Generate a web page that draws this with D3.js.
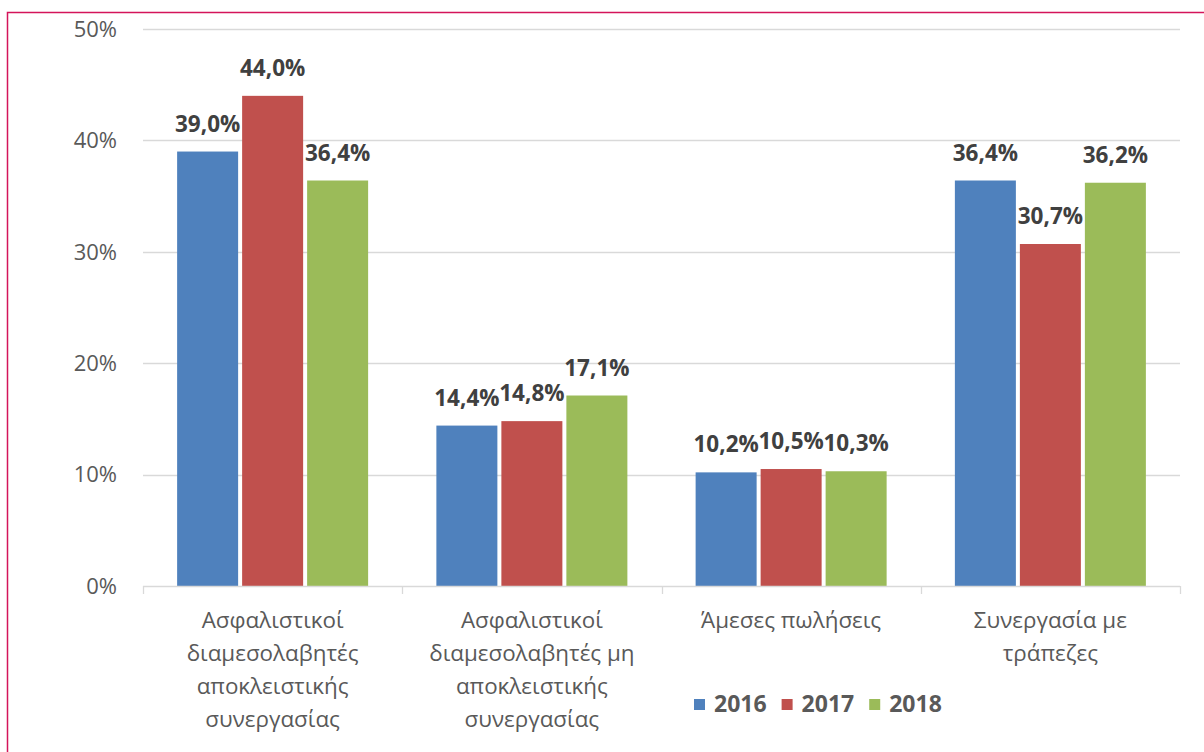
<!DOCTYPE html>
<html>
<head>
<meta charset="utf-8">
<script src="https://cdn.jsdelivr.net/npm/d3@7"></script>
<style>
html,body{margin:0;padding:0;background:#fff;}
svg{display:block;}
</style>
</head>
<body>
<svg id="chart" width="1204" height="752"></svg>
<script>
const categories = [
  "Ασφαλιστικοί\nδιαμεσολαβητές\nαποκλειστικής\nσυνεργασίας",
  "Ασφαλιστικοί\nδιαμεσολαβητές μη\nαποκλειστικής\nσυνεργασίας",
  "Άμεσες πωλήσεις",
  "Συνεργασία με\nτράπεζες"
];
const seriesNames = ["2016", "2017", "2018"];
const values2016 = [39.0, 14.4, 10.2, 36.4];
const values2017 = [44.0, 14.8, 10.5, 30.7];
const values2018 = [36.4, 17.1, 10.3, 36.2];
const yTicks = [0, 10, 20, 30, 40, 50];
const colors = ["#4f81bd", "#c0504d", "#9bbb59"];

const seriesValues = [values2016, values2017, values2018];
const FONT = "'Open Sans', 'Noto Sans', sans-serif";

const svg = d3.select("#chart");

// border
svg.append("path")
  .attr("d", "M7.5,760 L7.5,12.5 L1210,12.5")
  .attr("fill", "none").attr("stroke", "#d4145a").attr("stroke-width", 1.5);

const y = d3.scaleLinear().domain([0, 50]).range([586, 29]);
const x0 = d3.scaleBand().domain(d3.range(categories.length)).range([143, 1180]).padding(0);
const groupW = 195;
const x1 = d3.scaleBand().domain(seriesNames).range([0, groupW]).padding(0);

// gridlines
svg.append("g").selectAll("line").data(yTicks.filter(d => d > 0)).join("line")
  .attr("x1", 143).attr("x2", 1180)
  .attr("y1", d => Math.round(y(d)) + 0.5).attr("y2", d => Math.round(y(d)) + 0.5)
  .attr("stroke", "#d9d9d9").attr("stroke-width", 1.3);

// y tick labels
svg.append("g").selectAll("text").data(yTicks).join("text")
  .attr("x", 117).attr("y", d => y(d))
  .attr("dy", "0.35em").attr("text-anchor", "end")
  .attr("font-family", FONT).attr("font-size", 22).attr("fill", "#595959")
  .text(d => d + "%");

// bars
const groups = svg.append("g").selectAll("g").data(categories.map((c, i) => i)).join("g")
  .attr("transform", i => `translate(${x0(i) + x0.bandwidth() / 2 - groupW / 2},0)`);

groups.selectAll("rect").data(i => seriesNames.map((s, k) => ({s, k, v: seriesValues[k][i]}))).join("rect")
  .attr("x", d => x1(d.s) + 2)
  .attr("width", x1.bandwidth() - 4)
  .attr("y", d => y(d.v))
  .attr("height", d => y(0) - y(d.v))
  .attr("fill", d => colors[d.k]);

groups.selectAll("text").data(i => seriesNames.map((s, k) => ({s, k, v: seriesValues[k][i]}))).join("text")
  .attr("x", d => x1(d.s) + x1.bandwidth() / 2)
  .attr("y", d => y(d.v) - 20)
  .attr("text-anchor", "middle")
  .attr("font-family", FONT).attr("font-size", 22.5).attr("font-weight", "bold")
  .attr("fill", "#404040")
  .text(d => d.v.toFixed(1).replace(".", ",") + "%");

// x axis
svg.append("line").attr("x1", 143).attr("x2", 1180).attr("y1", 586.5).attr("y2", 586.5)
  .attr("stroke", "#d9d9d9").attr("stroke-width", 1.3);
const bounds = x0.domain().map(i => x0(i)).concat([x0(categories.length - 1) + x0.bandwidth()]);
svg.append("g").selectAll("line").data(bounds).join("line")
  .attr("x1", d => Math.round(d) + 0.5).attr("x2", d => Math.round(d) + 0.5)
  .attr("y1", 586).attr("y2", 594)
  .attr("stroke", "#d9d9d9").attr("stroke-width", 1.3);

// category labels
svg.append("g").selectAll("text").data(categories.map((c, i) => ({c, i}))).join("text")
  .attr("text-anchor", "middle")
  .attr("font-family", FONT).attr("font-size", 22.4).attr("fill", "#595959")
  .each(function(d) {
    const t = d3.select(this);
    d.c.split("\n").forEach((line, j) => {
      t.append("tspan").attr("x", x0(d.i) + x0.bandwidth() / 2).attr("y", 628 + j * 33).text(line);
    });
  });

// legend
const legend = svg.append("g");
let lx = 694;
seriesNames.forEach((s, k) => {
  legend.append("rect").attr("x", lx).attr("y", 699).attr("width", 11).attr("height", 11).attr("fill", colors[k]);
  const t = legend.append("text").attr("x", lx + 20).attr("y", 712)
    .attr("font-family", FONT).attr("font-size", 23).attr("font-weight", "bold").attr("fill", "#595959")
    .text(s);
  lx = lx + 20 + t.node().getComputedTextLength() + 15;
});
</script>
</body>
</html>
